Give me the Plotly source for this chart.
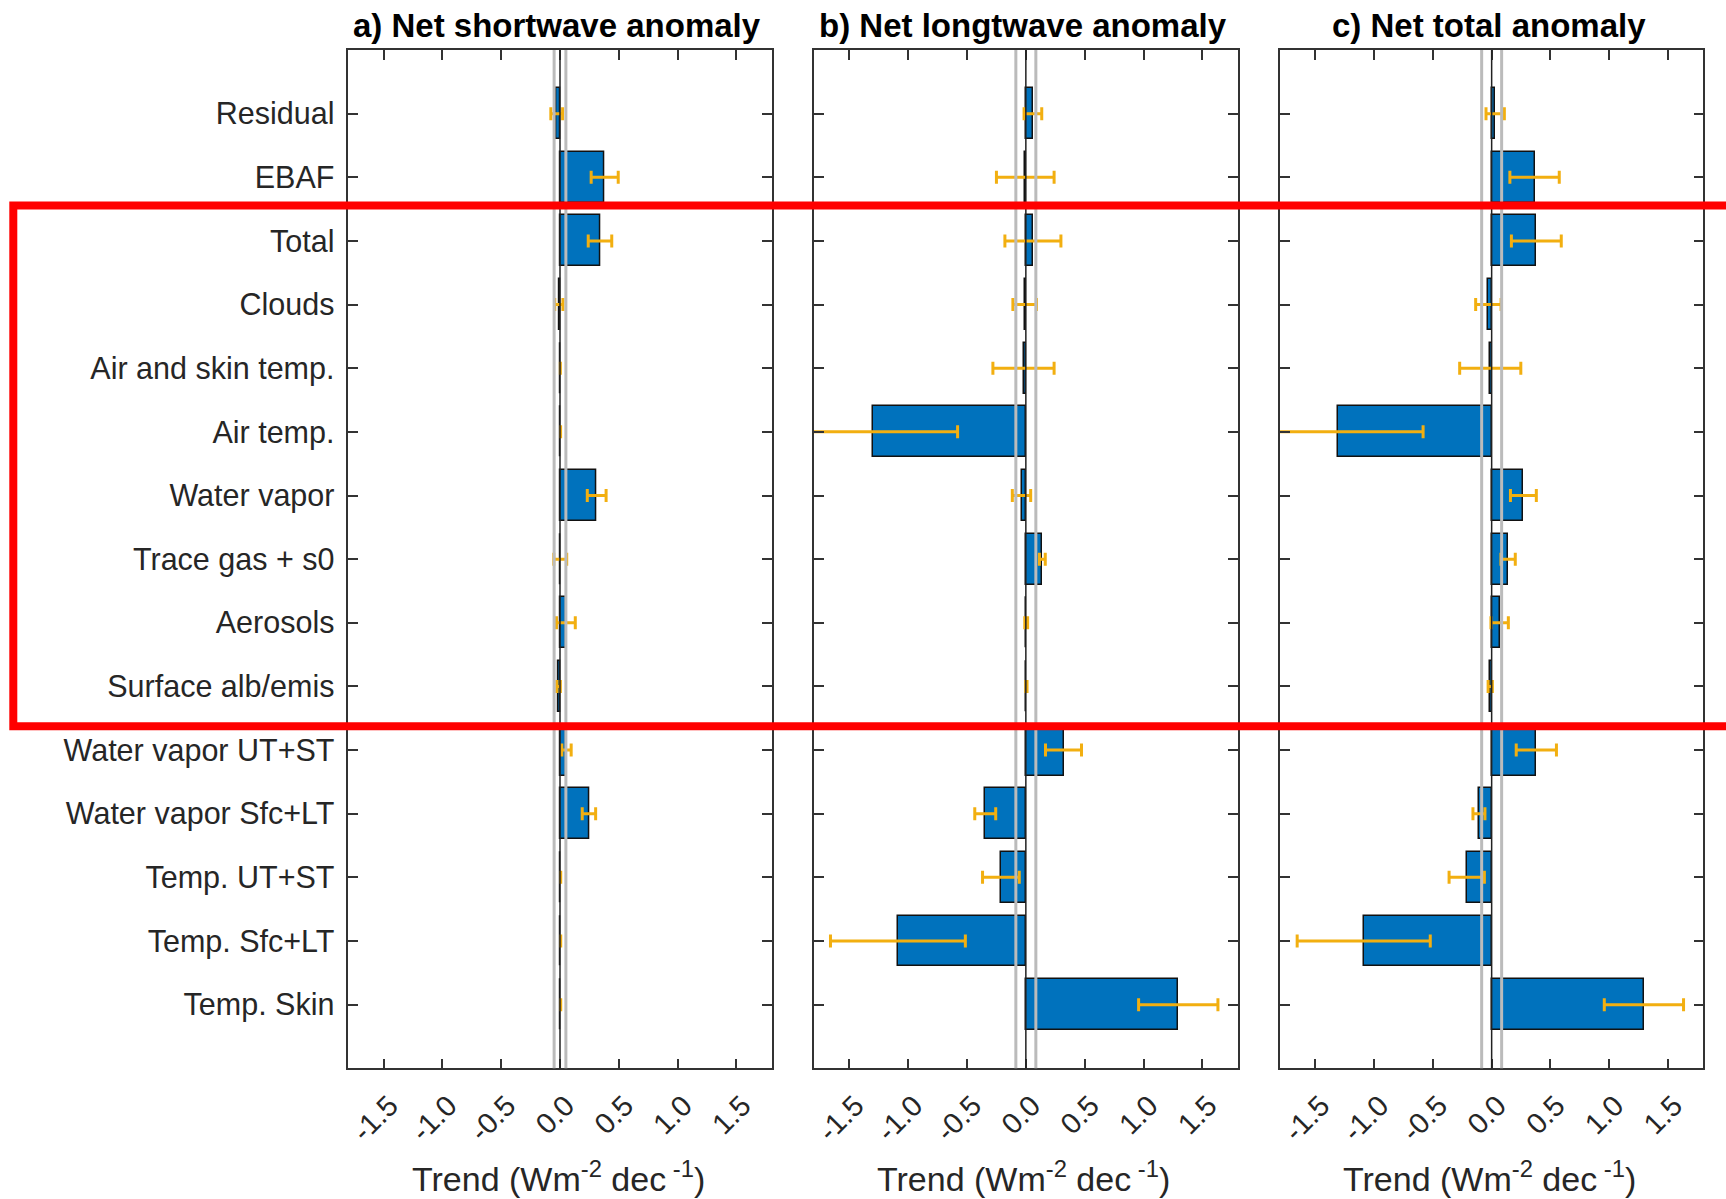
import plotly.graph_objects as go

categories = ["Residual", "EBAF", "Total", "Clouds", "Air and skin temp.", "Air temp.",
              "Water vapor", "Trace gas + s0", "Aerosols", "Surface alb/emis",
              "Water vapor UT+ST", "Water vapor Sfc+LT", "Temp. UT+ST", "Temp. Sfc+LT", "Temp. Skin"]

sw_values = [-0.028, 0.38, 0.34, -0.01, 0.003, 0.005, 0.312, 0.002, 0.05, -0.012,
             0.055, 0.246, 0.006, 0.006, 0.006]
sw_errors = [0.05, 0.115, 0.10, 0.035, 0.0, 0.0, 0.08, 0.055, 0.08, 0.015,
             0.04, 0.057, 0.0, 0.0, 0.0]

lw_values = [0.06, -0.005, 0.06, -0.01, -0.02, -1.30, -0.037, 0.14, 0.003, 0.005,
             0.32, -0.345, -0.212, -1.087, 1.295]
lw_errors = [0.075, 0.245, 0.238, 0.10, 0.26, 0.72, 0.078, 0.025, 0.012, 0.005,
             0.153, 0.089, 0.156, 0.573, 0.337]

net_values = [0.03, 0.365, 0.38, -0.028, -0.012, -1.305, 0.27, 0.14, 0.068, -0.012,
              0.38, -0.108, -0.212, -1.088, 1.295]
net_errors = [0.078, 0.21, 0.212, 0.108, 0.26, 0.722, 0.11, 0.061, 0.074, 0.018,
              0.171, 0.051, 0.15, 0.566, 0.337]

panel_titles = ["a) Net shortwave anomaly", "b) Net longtwave anomaly", "c) Net total anomaly"]
gray_offsets = [0.05, 0.085, 0.085]
x_ticks = [-1.5, -1.0, -0.5, 0.0, 0.5, 1.0, 1.5]
x_title = "Trend (Wm<sup>-2</sup> dec<sup> -1</sup>)"

W, H = 1726, 1199
FONT = "Liberation Sans, Arial, Helvetica, sans-serif"
BAR = "#0072BD"
ERR = "#F2AF10"
AX = "#333333"

positions = list(range(1, len(categories) + 1))
panels = [(sw_values, sw_errors), (lw_values, lw_errors), (net_values, net_errors)]
x_domains_px = [(348.3, 771.7), (814.0, 1237.7), (1280.0, 1703.3)]
y_domain = [1 - 1068.3 / H, 1 - 50.0 / H]

fig = go.Figure()
shapes = []
annotations = []
for i, ((vals, errs), (x0, x1)) in enumerate(zip(panels, x_domains_px)):
    sfx = "" if i == 0 else str(i + 1)
    fig.add_trace(go.Bar(
        x=vals, y=positions, orientation="h", width=0.8,
        marker=dict(color=BAR, line=dict(color="#111111", width=1.5)),
        error_x=dict(type="data", array=errs, color=ERR, thickness=3, width=6.5),
        xaxis="x" + sfx, yaxis="y" + sfx, showlegend=False,
    ))
    xa = dict(domain=[x0 / W, x1 / W], range=[-1.8, 1.8], anchor="y" + sfx, automargin=False,
              tickvals=x_ticks, ticktext=[f"{v:.1f}" for v in x_ticks], tickangle=-45,
              ticks="inside", ticklen=10, tickwidth=1.5, tickcolor=AX,
              showline=True, linewidth=1.5, linecolor=AX, mirror="ticks",
              showgrid=False, zeroline=False,
              tickfont=dict(family=FONT, size=29, color="#262626"),
              ticklabelstandoff=7, ticklabelshift=6)
    ya = dict(domain=y_domain, range=[16, 0], anchor="x" + sfx, automargin=False,
              tickvals=positions, ticktext=categories, showticklabels=(i == 0),
              ticks="inside", ticklen=10, tickwidth=1.5, tickcolor=AX,
              showline=True, linewidth=1.5, linecolor=AX, mirror="ticks",
              showgrid=False, zeroline=False,
              tickfont=dict(family=FONT, size=30.5, color="#262626"), ticklabelstandoff=6)
    fig.update_layout(**{"xaxis" + sfx: xa, "yaxis" + sfx: ya})
    g = gray_offsets[i]
    for xv, col, wd in [(-g, "#BBBBBB", 3), (g, "#BBBBBB", 3), (0, "#222222", 1.5)]:
        shapes.append(dict(type="line", xref="x" + sfx, yref="y" + sfx + " domain",
                           x0=xv, x1=xv, y0=0, y1=1, line=dict(color=col, width=wd), layer="above"))
    cx = (x0 + x1) / 2 / W
    annotations.append(dict(text="<b>" + panel_titles[i] + "</b>", x=cx - 3 / W, y=1 - 25 / H,
                            xref="paper", yref="paper", showarrow=False, xanchor="center",
                            yanchor="middle", font=dict(family=FONT, size=33, color="#000000")))
    annotations.append(dict(text=x_title, x=cx - 2 / W, y=1 - 1176 / H, xref="paper", yref="paper",
                            showarrow=False, xanchor="center", yanchor="middle",
                            font=dict(family=FONT, size=34, color="#262626")))

# red highlight rectangle
shapes.append(dict(type="rect", xref="paper", yref="paper",
                   x0=13.3 / W, x1=1745 / W, y0=1 - 726.3 / H, y1=1 - 205.5 / H,
                   line=dict(color="#FF0000", width=8), fillcolor="rgba(0,0,0,0)", layer="above"))

fig.update_layout(width=W, height=H, margin=dict(l=0, r=0, t=0, b=0, autoexpand=False),
                  paper_bgcolor="white", plot_bgcolor="white",
                  shapes=shapes, annotations=annotations, bargap=0)

fig.write_html("out.html", config={"displayModeBar": False},
               post_script="document.body.style.margin='0';document.body.style.overflow='hidden';")
